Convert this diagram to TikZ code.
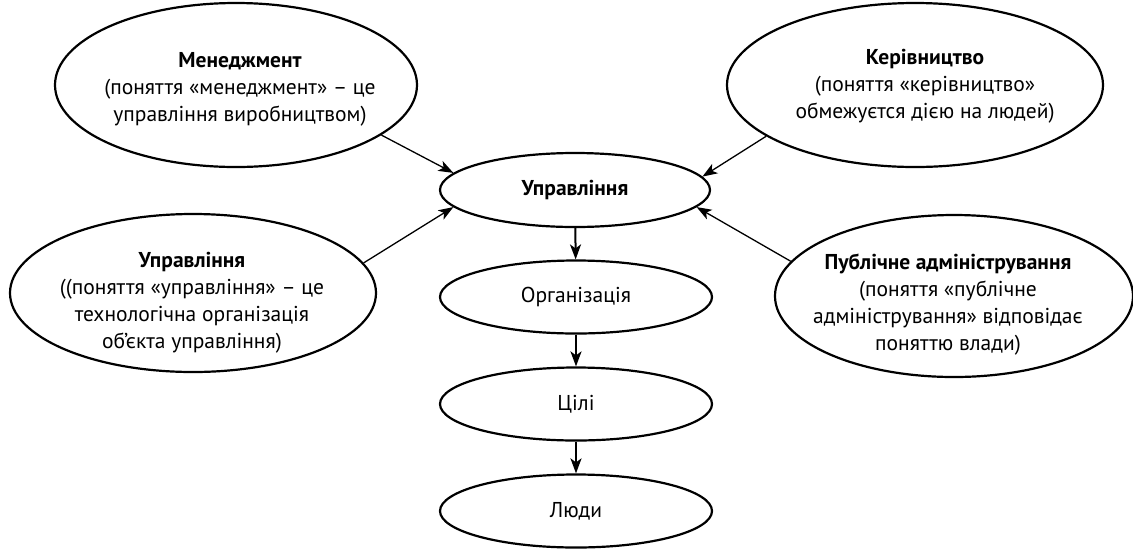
\documentclass[tikz,border=0pt]{standalone}
\usepackage{fontspec}
\setmainfont{PT Sans}
\usetikzlibrary{shapes.geometric,arrows.meta}
\begin{document}
\begin{tikzpicture}[x=1pt,y=-1pt,
  ell/.style={ellipse,draw,line width=2.2pt,inner sep=0pt},
  txt/.style={align=center,font=\fontsize{21.5}{27}\selectfont,inner sep=0pt},
  conn/.style={line width=1.3pt,-{Stealth[length=15pt,width=11pt,inset=4pt]}},
  down/.style={line width=2pt,-{Stealth[length=15pt,width=11pt,inset=4pt]}}]
\useasboundingbox (0,0) rectangle (1133,550);
% outer ellipses
\node[ell,minimum width=362pt,minimum height=164pt] (m) at (236,85) {};
\node[ell,minimum width=376pt,minimum height=164pt] (k) at (915,85) {};
\node[ell,minimum width=366pt,minimum height=158pt] (l) at (193,293) {};
\node[ell,minimum width=358pt,minimum height=162pt] (p) at (954,296) {};
% texts
\node[txt] (mt) at (240,89) {\textbf{Менеджмент}\\(поняття «менеджмент» – це\\управління виробництвом)};
\node[txt] (kt) at (925,86) {\textbf{Керівництво}\\(поняття «керівництво»\\обмежуєтся дією на людей)};
\node[txt] (lt) at (192,303) {\textbf{Управління}\\((поняття «управління» – це\\технологічна організація\\об’єкта управління)};
\node[txt] (pt) at (948,305) {\textbf{Публічне адміністрування}\\(поняття «публічне\\адміністрування» відповідає\\поняттю влади)};
% central chain
\node[ell,txt,minimum width=270pt,minimum height=74pt] (u) at (575,190) {\textbf{Управління}};
\node[ell,txt,minimum width=272pt,minimum height=73pt] (o) at (576,297) {Організація};
\node[ell,txt,minimum width=272pt,minimum height=73pt] (c) at (576,404) {Цілі};
\node[ell,txt,minimum width=272pt,minimum height=73pt] (h) at (576,511) {Люди};
\draw[down] (u) -- (o);
\draw[down] (o) -- (c);
\draw[down] (c) -- (h);
% connectors
\draw[conn] (m.341) -- (u.172);
\draw[conn] (k.199) -- (u.6.6);
\draw[conn] (l.10.4) -- (u.188.4);
\draw[conn] (p.168.4) -- (u.352);
\end{tikzpicture}
\end{document}
